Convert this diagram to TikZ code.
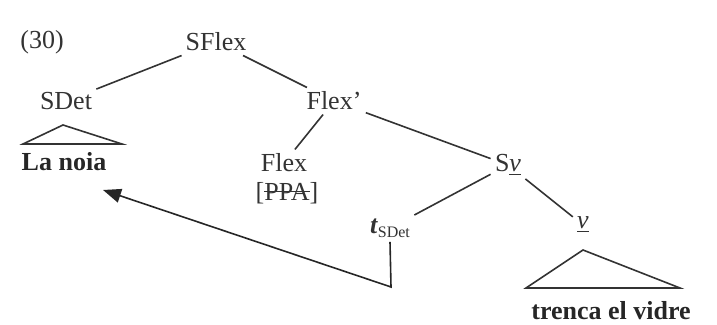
\documentclass[tikz,border=0pt]{standalone}
\usepackage{fontspec}
\setmainfont{Liberation Serif}
\usetikzlibrary{arrows.meta}
\newcommand\strk[1]{\setbox0\hbox{#1}\rlap{\rule[0.3em]{\wd0}{0.6pt}}\box0}

\begin{document}
\begin{tikzpicture}[
  x=0.5pt, y=-0.5pt,
  font=\fontsize{13}{15}\selectfont,
  >={Triangle[length=9pt, width=7pt]},
  cat/.style={inner sep=2pt, text=black!80},
  leaf/.style={inner sep=2pt, text=black!85, font=\fontsize{13}{15}\selectfont\bfseries},
  branch/.style={draw=black!80, line width=0.8pt},
  roof/.style={draw=black!80, line width=0.8pt, line join=miter},
  move/.style={->, draw=black!85, line width=0.8pt},
]
\useasboundingbox (0,0) rectangle (717,325);

\node[cat] (ex)    at (42,42)   {(30)};
\node[cat] (sflex) at (216,42)  {SFlex};
\node[cat] (sdet)  at (66,101)  {SDet};
\node[leaf] (noia) at (64,162)  {La noia};
\node[cat] (flexb) at (334,101) {Flex'};
\node[cat] (flex)  at (284,163) {Flex};
\node[cat] (ppa)   at (287,193) {[\strk{PPA}]};
\node[cat] (sv)    at (508,165) {S\underline{\textit{v}}};
\node[cat] (trace) at (390,228) {\textbf{\textit{t}}{\fontsize{8}{8}\selectfont\raisebox{-2pt}{SDet}}};
\node[cat] (v)     at (583,225) {\underline{\textit{v}}};
\node[leaf] (verb) at (611,311) {trenca el vidre};

\coordinate (turn) at (391,287);
\coordinate (tip)  at (103,190);

% tree
\draw[branch] (sflex) -- (sdet);
\draw[branch] (sflex) -- (flexb);
\draw[branch] (flexb) -- (flex);
\draw[branch] (flexb) -- (sv);
\draw[branch] (sv) -- (trace);
\draw[branch] (sv) -- (v);

% roofs
\draw[roof] (63,125) -- (23,144) -- (122,144) -- cycle;
\draw[roof] (583,250) -- (526,288) -- (680,288) -- cycle;

% movement
\draw[move] (trace.south) -- (turn) -- (tip);

\end{tikzpicture}
\end{document}
